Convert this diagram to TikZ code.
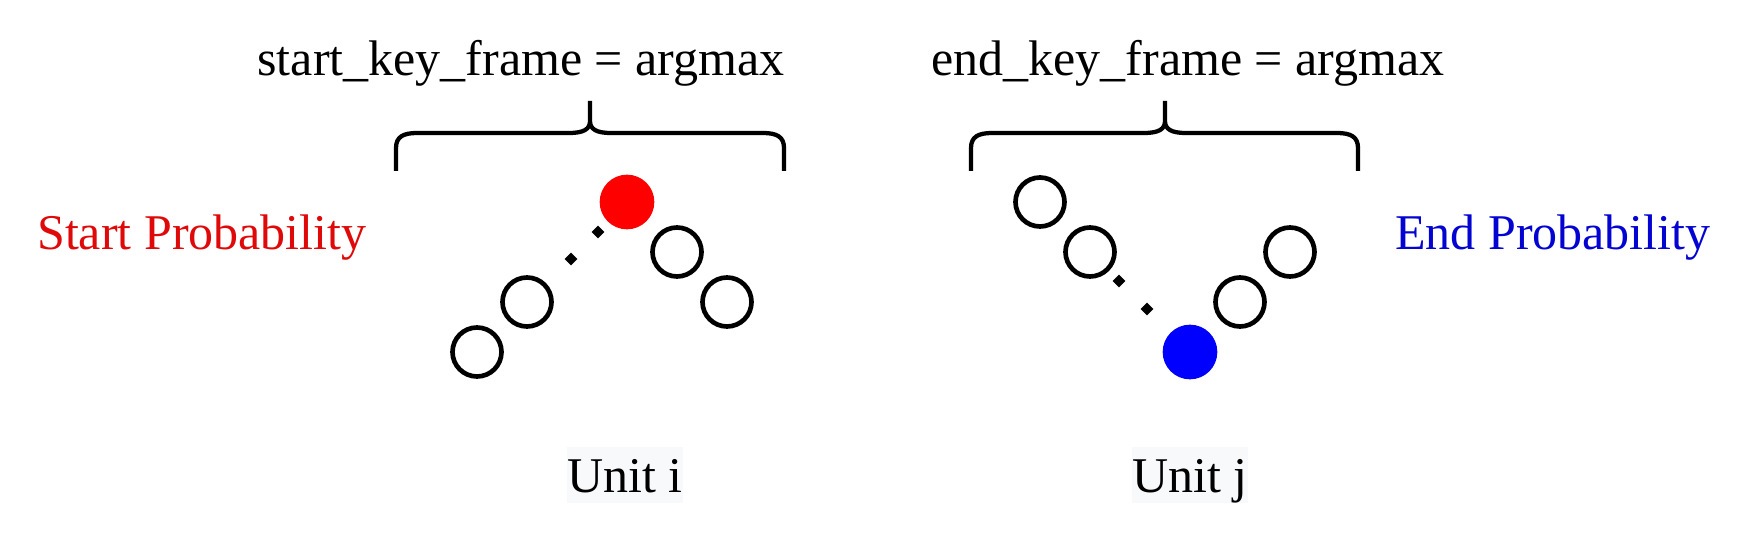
\documentclass[tikz,border=0pt]{standalone}
\usepackage{fontspec}
\setmainfont{Liberation Serif}
\usetikzlibrary{shapes.geometric}
\definecolor{startred}{RGB}{224,9,9}
\definecolor{endblue}{RGB}{4,4,210}
\definecolor{unitbg}{RGB}{248,249,250}
\tikzset{
  emptycell/.style={circle,draw=black,line width=3.5pt,minimum size=36.75pt,inner sep=0pt},
  startcell/.style={circle,fill=red,minimum size=41pt,inner sep=0pt},
  endcell/.style={circle,fill=blue,minimum size=41pt,inner sep=0pt},
  gapdot/.style={diamond,fill=black,minimum size=9.75pt,inner sep=0pt},
  bigtext/.style={inner sep=0pt,font=\fontsize{37.5}{45}\selectfont},
  unitlabel/.style={bigtext,anchor=base,fill=unitbg,text height=33.4pt,text depth=8.25pt},
  bracepath/.style={line width=3.2pt,line join=round},
}
\begin{document}
\begin{tikzpicture}[x=0.75pt,y=0.75pt,yscale=-1,xscale=1]
    \useasboundingbox (0,0) rectangle (1755,555);

    %Shape: Brace [id:startbrace]
    \draw [bracepath] (396,171) -- (396,148) .. controls (396,137) and (403,133) .. (417,133) -- (569,133) .. controls (584,133) and (590,129) .. (590,121) -- (590,101) (590,121) .. controls (590,129) and (596,133) .. (611,133) -- (763,133) .. controls (777,133) and (784,137) .. (784,148) -- (784,171) ;
    %Shape: Brace [id:endbrace]
    \draw [bracepath] (971,171) -- (971,148) .. controls (971,137) and (978,133) .. (992,133) -- (1144,133) .. controls (1159,133) and (1165,129) .. (1165,121) -- (1165,101) (1165,121) .. controls (1165,129) and (1171,133) .. (1186,133) -- (1337,133) .. controls (1351,133) and (1358,137) .. (1358,148) -- (1358,171) ;

    %Shape: Circles of unit i
    \node [startcell] (startmax) at (627,202) {};
    \node [emptycell] (ia) at (677,252) {};
    \node [emptycell] (ib) at (727,302) {};
    \node [emptycell] (ic) at (527,302) {};
    \node [emptycell] (id) at (477,352) {};
    \node [gapdot] (igapa) at (598,232) {};
    \node [gapdot] (igapb) at (571,259) {};

    %Shape: Circles of unit j
    \node [emptycell] (ja) at (1040,202) {};
    \node [emptycell] (jb) at (1090,252) {};
    \node [endcell] (endmax) at (1190,352) {};
    \node [emptycell] (jc) at (1240,302) {};
    \node [emptycell] (jd) at (1290,252) {};
    \node [gapdot] (jgapa) at (1119,281) {};
    \node [gapdot] (jgapb) at (1147,309) {};

    % Text Node
    \node [bigtext,anchor=base] (startkey) at (521,76) {start\_key\_frame = argmax};
    % Text Node
    \node [bigtext,anchor=base] (endkey) at (1188,76) {end\_key\_frame = argmax};
    % Text Node
    \node [bigtext,anchor=base west,text=startred] (startprob) at (37,250) {Start Probability};
    % Text Node
    \node [bigtext,anchor=base west,text=endblue] (endprob) at (1395,250) {End Probability};
    % Text Node
    \node [unitlabel] (uniti) at (625,492) {Unit i};
    % Text Node
    \node [unitlabel] (unitj) at (1190,492) {Unit j};
\end{tikzpicture}
\end{document}
